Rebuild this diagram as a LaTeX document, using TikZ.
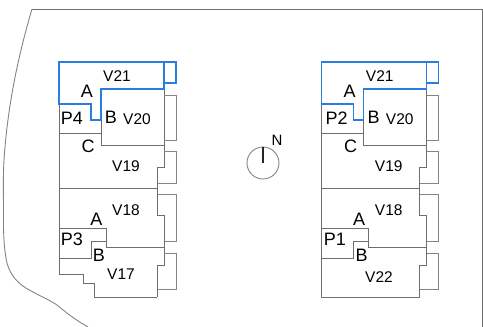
\documentclass[tikz,border=0pt]{standalone}
\usepackage{fontspec}
\setmainfont{Liberation Sans}
\definecolor{wallgray}{HTML}{6E6E6E}
\definecolor{roofblue}{HTML}{2A7DDE}
\tikzset{
    wall/.style={draw=wallgray,line width=1pt},
    thinwall/.style={draw=wallgray!85,line width=0.9pt},
    roof/.style={draw=roofblue,line width=1.5pt},
    big/.style={font=\fontsize{18}{20}\selectfont,inner sep=0pt},
    small/.style={font=\fontsize{15.5}{18}\selectfont,inner sep=0pt}
}
\begin{document}
\begin{tikzpicture}[x=1pt,y=-1pt]
        \useasboundingbox (0,0) rectangle (483,327);
        % Site boundary
        \draw [thinwall] (88,327) .. controls (72,318) and (62,309) .. (57,305)
            .. controls (48,299) and (40,296) .. (33,292)
            .. controls (25,288) and (12,281) .. (7,263)
            .. controls (3,245) and (3.5,225) .. (3.5,210)
            .. controls (3.5,190) and (3,178) .. (4,160)
            .. controls (8,100) and (20,50) .. (32,9);
        \draw [wall] (32,9) -- (482,9) -- (482,327);
        % Both blocks
        \foreach \dx/\side in {0/l,262.7/r} {
            \begin{scope}[shift={(\dx,0)}]
                \draw [wall] (101,89) -- (164,89) -- (164,145) -- (101,145) -- cycle;
                \draw [thinwall] (164,95) -- (176,95) -- (176,140) -- (164,140);
                \draw [wall] (59,104) -- (59,258);
                \draw [wall] (59,133) -- (101,133);
                \draw [wall] (164,145) -- (164,167) -- (157,167) -- (157,194);
                \draw [thinwall] (164,151) -- (176,151) -- (176,183) -- (157,183);
                \draw [thinwall] (157,194) -- (176,194) -- (176,241.5) -- (164,241.5);
                \draw [wall] (59,188.2) -- (157,188.2);
                \draw [wall] (157,194) -- (157,215) -- (164,215) -- (164,265) -- (157,265);
                \draw [wall] (59,228) -- (106,228) -- (106,247) -- (164,247);
                \draw [wall] (106,241) -- (91,241) -- (91,258) -- (59,258);
                \draw [thinwall] (164,253) -- (176,253) -- (176,289) -- (157,289);
                \draw [wall] (157,265) -- (157,297);
                \draw [roof] (59,62) -- (164,62) -- (164,89) -- (101,89) -- (101,120)
                    -- (91,120) -- (91,104) -- (59,104) -- cycle;
                \draw [roof] (164,62) -- (176,62) -- (176,83) -- (164,83);
                \node [small] (v21\side) at (117,76) {V21};
                \node [big] (a\side) at (87,91) {A};
                \node [big] (b\side) at (111,117) {B};
                \node [small] (v20\side) at (137,119) {V20};
                \node [big] (c\side) at (88,146) {C};
                \node [small] (v19\side) at (126,166) {V19};
                \node [small] (v18\side) at (126,210) {V18};
                \node [big] (aa\side) at (96.5,219) {A};
                \node [big] (bb\side) at (99,255) {B};
            \end{scope}
        }
        % Left block only
        \draw [wall] (157,297) -- (94,297) -- (94,283) -- (83,283) -- (83,274.5)
            -- (59,274.5) -- (59,258);
        \node [big] (p4) at (72,118) {P4};
        \node [big] (p3) at (72,239.5) {P3};
        \node [small] (v17) at (121,274) {V17};
        % Right block only
        \draw [wall] (419.7,297) -- (321.7,297) -- (321.7,258);
        \node [big] (p2) at (336.7,118) {P2};
        \node [big] (p1) at (335,239.5) {P1};
        \node [small] (v22) at (379,277) {V22};
        % North sign
        \node [circle,thinwall,minimum size=32pt,inner sep=0pt] (compass) at (263,163) {};
        \draw [line width=1.1pt,draw=black!85] (compass.north) -- (compass.center);
        \node [small,font=\fontsize{15}{16}\selectfont] (north) at (277,140) {N};
    \end{tikzpicture}
\end{document}
